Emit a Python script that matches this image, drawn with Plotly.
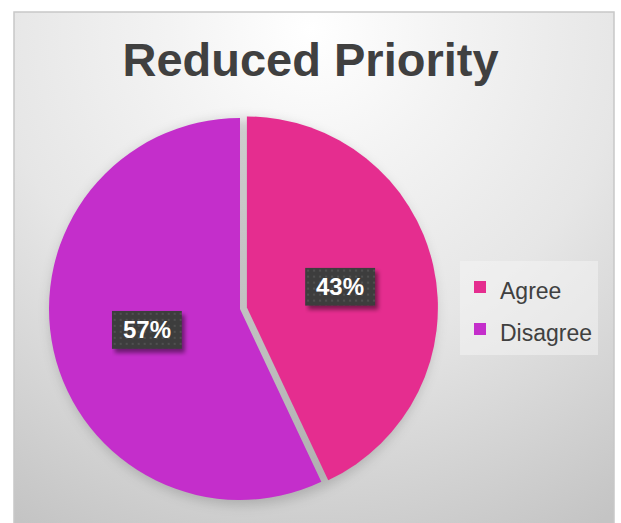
import math
import urllib.parse
import plotly.graph_objects as go

# Survey data
labels = ["Agree", "Disagree"]
values = [43, 57]
colors = ["#E52D8F", "#C42ECB"]
title_text = "Reduced Priority"

W, H = 621, 523

# Pie geometry in pixels (from top-left)
cx, cy, r = 240, 309, 191
pull_frac = 0.037
half = r * (1 + pull_frac)
dom_x = [(cx - half) / W, (cx + half) / W]
dom_y = [(H - cy - half) / H, (H - cy + half) / H]


def svg_uri(svg):
    return "data:image/svg+xml;charset=utf-8," + urllib.parse.quote(svg)


# Chart-area background: soft radial gradient lit from the top centre
bx0, by0, bx1 = 14, 12, 614
bw, bh = bx1 - bx0, H - by0
bg_svg = (
    f'<svg xmlns="http://www.w3.org/2000/svg" width="{bw}" height="{bh}">'
    f'<defs><radialGradient id="g" cx="{311 - bx0}" cy="{30 - by0}" r="570" '
    'gradientUnits="userSpaceOnUse">'
    '<stop offset="0" stop-color="#ffffff"/>'
    '<stop offset="0.25" stop-color="#f3f3f3"/>'
    '<stop offset="0.55" stop-color="#e6e6e6"/>'
    '<stop offset="0.75" stop-color="#d7d7d7"/>'
    '<stop offset="1" stop-color="#c4c4c4"/>'
    '</radialGradient></defs>'
    f'<rect width="{bw}" height="{bh}" fill="url(#g)"/></svg>'
)

# Soft shadow beneath the pie
SP = 30
sh_svg = (
    f'<svg xmlns="http://www.w3.org/2000/svg" width="{2*r+2*SP}" height="{2*r+2*SP}">'
    '<defs><filter id="b" x="-20%" y="-20%" width="140%" height="140%">'
    '<feGaussianBlur stdDeviation="6"/></filter></defs>'
    f'<circle cx="{r+SP+3}" cy="{r+SP+3}" r="{r+2}" fill="rgba(0,0,0,0.17)" filter="url(#b)"/>'
    '</svg>'
)

# Dark patterned data-label box with a soft drop shadow
BW, BH, PAD = 70, 38, 8
lbl_svg = (
    f'<svg xmlns="http://www.w3.org/2000/svg" width="{BW+PAD}" height="{BH+PAD}">'
    '<defs><filter id="s" x="-20%" y="-20%" width="140%" height="140%">'
    '<feGaussianBlur stdDeviation="2"/></filter>'
    '<pattern id="p" width="6" height="6" patternUnits="userSpaceOnUse">'
    '<rect width="6" height="6" fill="#3d3d3d"/>'
    '<circle cx="3" cy="3" r="1.1" fill="#555555"/></pattern></defs>'
    f'<rect x="3" y="4" width="{BW}" height="{BH}" fill="rgba(0,0,0,0.45)" filter="url(#s)"/>'
    f'<rect x="0" y="0" width="{BW}" height="{BH}" fill="url(#p)"/></svg>'
)

# Legend entries keep a wide line pitch (from the legend font) with smaller text
legend_text_px = 23
legend_labels = [f'<span style="font-size:{legend_text_px}px">{t}</span>' for t in labels]

fig = go.Figure()
fig.add_trace(go.Pie(
    labels=legend_labels,
    values=values,
    sort=False,
    direction="clockwise",
    rotation=0,
    pull=[pull_frac, 0],
    marker=dict(colors=colors, line=dict(width=0)),
    textinfo="none",
    hoverinfo="label+percent",
    domain=dict(x=dom_x, y=dom_y),
))

images = [
    dict(source=svg_uri(bg_svg), xref="paper", yref="paper",
         x=bx0 / W, y=1 - by0 / H, sizex=bw / W, sizey=bh / H,
         xanchor="left", yanchor="top", sizing="stretch", layer="below"),
    dict(source=svg_uri(sh_svg), xref="paper", yref="paper",
         x=(cx - r - SP) / W, y=1 - (cy - r - SP) / H,
         sizex=(2 * r + 2 * SP) / W, sizey=(2 * r + 2 * SP) / H,
         xanchor="left", yanchor="top", sizing="stretch", layer="below"),
]

annotations = []
total = sum(values)
start = 0.0
for i, v in enumerate(values):
    frac = v / total
    mid = (start + frac / 2) * 2 * math.pi  # clockwise from 12 o'clock
    start += frac
    dx, dy = math.sin(mid), -math.cos(mid)
    off = r * (pull_frac if i == 0 else 0)
    lx = cx + dx * (off + 0.5 * r)
    ly = cy + dy * (off + 0.5 * r)
    images.append(dict(
        source=svg_uri(lbl_svg), xref="paper", yref="paper",
        x=(lx - BW / 2) / W, y=1 - (ly - BH / 2) / H,
        sizex=(BW + PAD) / W, sizey=(BH + PAD) / H,
        xanchor="left", yanchor="top", sizing="stretch", layer="above",
    ))
    annotations.append(dict(
        text=f"<b>{round(frac * 100)}%</b>",
        x=lx / W, y=1 - ly / H, xref="paper", yref="paper",
        xanchor="center", yanchor="middle", showarrow=False,
        font=dict(family="Liberation Sans, Arial", size=24, color="#ffffff"),
    ))

fig.update_layout(
    width=W, height=H,
    margin=dict(l=0, r=0, t=0, b=0),
    paper_bgcolor="#ffffff",
    title=dict(
        text=f"<b>{title_text}</b>",
        x=0.5, xanchor="center", xref="paper",
        y=1 - 60 / H, yanchor="middle", yref="paper",
        font=dict(family="Liberation Sans, Arial", size=47, color="#404040"),
    ),
    legend=dict(
        x=460 / W, y=1 - 261 / H, xanchor="left", yanchor="top",
        bgcolor="rgba(245,245,245,0.5)", borderwidth=0,
        font=dict(family="Liberation Sans, Arial", size=30, color="#404040"),
        itemclick=False, itemdoubleclick=False,
    ),
    images=images,
    annotations=annotations,
    shapes=[dict(
        type="rect", xref="paper", yref="paper",
        x0=bx0 / W, x1=bx1 / W, y0=-0.01, y1=1 - by0 / H,
        line=dict(color="#c8c8c8", width=1.5), fillcolor="rgba(0,0,0,0)",
        layer="above",
    )],
)

fig.write_html("out.html")
